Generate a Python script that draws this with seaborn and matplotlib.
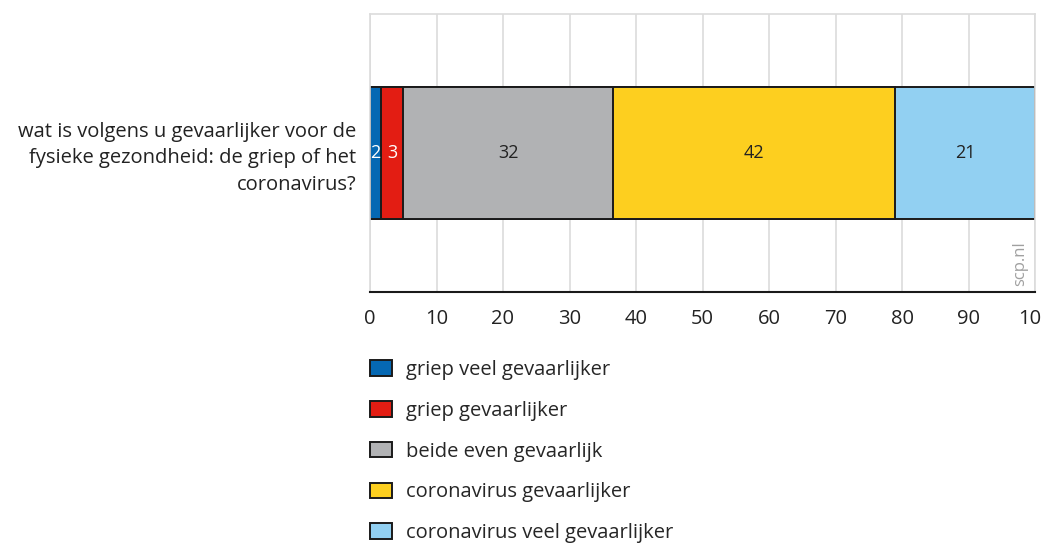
import matplotlib.pyplot as plt
import numpy as np
import seaborn as sns
from matplotlib.patches import Patch

question = "wat is volgens u gevaarlijker voor de\nfysieke gezondheid: de griep of het\ncoronavirus?"
categories = [
    "griep veel gevaarlijker",
    "griep gevaarlijker",
    "beide even gevaarlijk",
    "coronavirus gevaarlijker",
    "coronavirus veel gevaarlijker",
]
values = [1.7, 3.3, 31.6, 42.4, 21.0]
labels = ["2", "3", "32", "42", "21"]
colors = ["#0568b3", "#e31d13", "#b1b2b4", "#fdcf1f", "#92d0f2"]
label_colors = ["white", "white", "#222222", "#222222", "#222222"]
xticks = list(range(0, 101, 10))

sns.set_theme(style="white")
plt.rcParams["font.family"] = ["Open Sans", "DejaVu Sans"]

fig = plt.figure(figsize=(10.42, 5.43), dpi=100)
ax = fig.add_axes([370 / 1042, 1 - 292 / 543, 665 / 1042, 278 / 543])

cum = np.cumsum(values)
# draw cumulative bars from the longest down so they stack visually
for i in reversed(range(len(values))):
    sns.barplot(
        x=[cum[i]],
        y=[question],
        orient="h",
        color=colors[i],
        width=0.478,
        edgecolor="#1a1a1a",
        linewidth=1.4,
        saturation=1,
        ax=ax,
    )

for i, v in enumerate(values):
    ax.text(cum[i] - v / 2, 0, labels[i], ha="center", va="center",
            fontsize=13, color=label_colors[i])

ax.set_xlim(0, 100)
ax.set_ylim(0.5, -0.5)
ax.set_xticks(xticks)
ax.set_xticklabels([str(t) for t in xticks], fontsize=14.5, color="#222222")
ax.tick_params(axis="x", length=0, pad=12)
ax.tick_params(axis="y", length=0, pad=10)
for lab in ax.get_yticklabels():
    lab.set_fontsize(14.5)
    lab.set_color("#222222")
    lab.set_linespacing(1.4)
    lab.set_ha("right")
ax.set_xlabel("")
ax.set_ylabel("")

ax.set_axisbelow(True)
ax.grid(axis="x", color="#dcdcdc", linewidth=1.2)
ax.grid(axis="y", visible=False)
for side in ["top", "right", "left"]:
    ax.spines[side].set_color("#dcdcdc")
    ax.spines[side].set_linewidth(1.2)
ax.spines["bottom"].set_color("#1a1a1a")
ax.spines["bottom"].set_linewidth(1.5)

ax.text(0.978, 0.02, "scp.nl", transform=ax.transAxes, rotation=90,
        ha="center", va="bottom", fontsize=12, color="#a0a0a0")

handles = [Patch(facecolor=c, edgecolor="#1a1a1a", linewidth=1.4) for c in colors]
fig.legend(
    handles,
    categories,
    loc="upper left",
    bbox_to_anchor=(362 / 1042, 1 - 352 / 543),
    frameon=False,
    fontsize=14.5,
    handlelength=1.1,
    handleheight=0.8,
    handletextpad=0.7,
    labelspacing=1.03,
    borderaxespad=0,
)

fig.savefig("out.png", dpi=100)
